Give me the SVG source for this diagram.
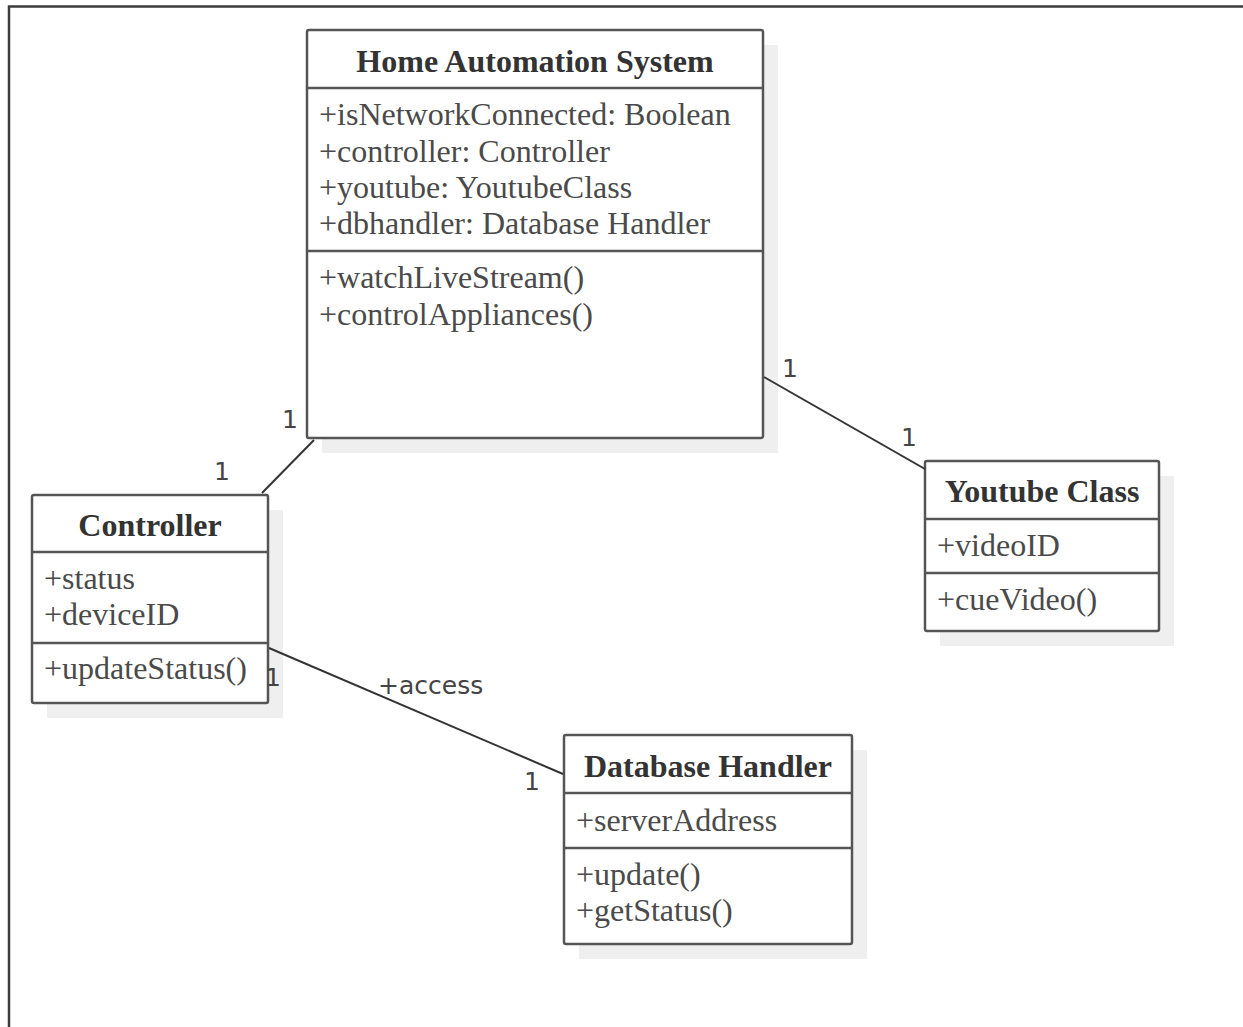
<svg xmlns="http://www.w3.org/2000/svg" width="1243" height="1027" viewBox="0 0 1243 1027">
<style>
.frame{fill:none;stroke:#3c3c3c;stroke-width:2.5}
.shadow{fill:#efefef}
.box{fill:#fff;stroke:#555;stroke-width:2.5}
.div{stroke:#555;stroke-width:2.5}
.title{font-family:"Liberation Serif",serif;font-weight:bold;font-size:32px;fill:#333;text-anchor:middle}
.attr{font-family:"Liberation Serif",serif;font-size:32px;fill:#4a4a4a}
.conn{stroke:#333;stroke-width:2;fill:none}
.lbl{font-family:"DejaVu Sans",sans-serif;font-size:25px;fill:#444}
</style>
<rect width="1243" height="1027" fill="#fff"/>
<rect class="frame" x="9" y="6.5" width="1300" height="1100"/>

<g id="home">
<rect class="shadow" x="322" y="45" width="456" height="408"/>
<rect class="box" x="307" y="30" width="456" height="408" rx="2"/>
<line class="div" x1="307" y1="88" x2="763" y2="88"/>
<line class="div" x1="307" y1="251" x2="763" y2="251"/>
<text class="title" x="535" y="72">Home Automation System</text>
<text class="attr" x="319" y="125">+isNetworkConnected: Boolean</text>
<text class="attr" x="319" y="162">+controller: Controller</text>
<text class="attr" x="319" y="198">+youtube: YoutubeClass</text>
<text class="attr" x="319" y="234">+dbhandler: Database Handler</text>
<text class="attr" x="319" y="288">+watchLiveStream()</text>
<text class="attr" x="319" y="325">+controlAppliances()</text>
</g>

<g id="controller">
<rect class="shadow" x="47" y="510" width="236" height="208"/>
<rect class="box" x="32" y="495" width="236" height="208" rx="2"/>
<line class="div" x1="32" y1="552" x2="268" y2="552"/>
<line class="div" x1="32" y1="643" x2="268" y2="643"/>
<text class="title" x="150" y="536">Controller</text>
<text class="attr" x="44" y="589">+status</text>
<text class="attr" x="44" y="625">+deviceID</text>
<text class="attr" x="44" y="679">+updateStatus()</text>
</g>

<g id="youtube">
<rect class="shadow" x="940" y="476" width="234" height="170"/>
<rect class="box" x="925" y="461" width="234" height="170" rx="2"/>
<line class="div" x1="925" y1="519" x2="1159" y2="519"/>
<line class="div" x1="925" y1="573" x2="1159" y2="573"/>
<text class="title" x="1042" y="502">Youtube Class</text>
<text class="attr" x="937" y="556">+videoID</text>
<text class="attr" x="937" y="610">+cueVideo()</text>
</g>

<g id="dbhandler">
<rect class="shadow" x="579" y="750" width="288" height="209"/>
<rect class="box" x="564" y="735" width="288" height="209" rx="2"/>
<line class="div" x1="564" y1="793" x2="852" y2="793"/>
<line class="div" x1="564" y1="848" x2="852" y2="848"/>
<text class="title" x="708" y="777">Database Handler</text>
<text class="attr" x="576" y="831">+serverAddress</text>
<text class="attr" x="576" y="885">+update()</text>
<text class="attr" x="576" y="921">+getStatus()</text>
</g>

<g id="connectors">
<line class="conn" x1="314" y1="440" x2="262" y2="493"/>
<line class="conn" x1="764" y1="377" x2="925" y2="469"/>
<line class="conn" x1="269" y1="648" x2="563" y2="774"/>
<text class="lbl" x="282" y="428">1</text>
<text class="lbl" x="214" y="480">1</text>
<text class="lbl" x="782" y="377">1</text>
<text class="lbl" x="901" y="446">1</text>
<text class="lbl" x="265" y="686">1</text>
<text class="lbl" x="378" y="694">+access</text>
<text class="lbl" x="524" y="790">1</text>
</g>
</svg>
